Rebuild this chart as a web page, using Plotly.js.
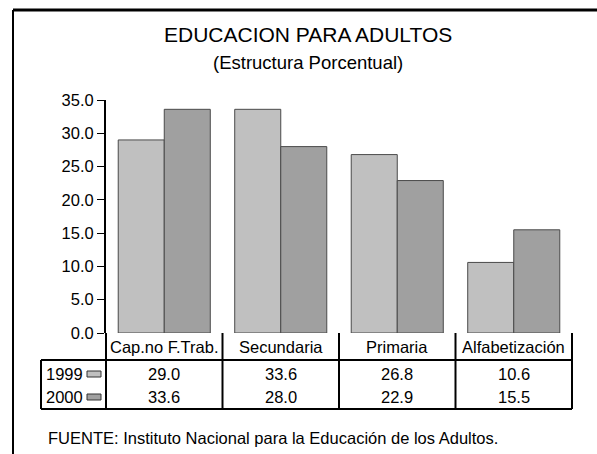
<!DOCTYPE html>
<html>
<head>
<meta charset="utf-8">
<script src="https://cdn.plot.ly/plotly-3.0.1.min.js"></script>
<style>html,body{margin:0;padding:0;background:#fff;}#chart{width:597px;height:454px;}</style>
</head>
<body>
<div id="chart"></div>
<script>
const categories = ["Cap.no F.Trab.", "Secundaria", "Primaria", "Alfabetización"];
const seriesNames = ["1999", "2000"];
const values1999 = [29.0, 33.6, 26.8, 10.6];
const values2000 = [33.6, 28.0, 22.9, 15.5];
const yTickVals = [0, 5, 10, 15, 20, 25, 30, 35];
const yTickText = ["0.0", "5.0", "10.0", "15.0", "20.0", "25.0", "30.0", "35.0"];
const titleText = "EDUCACION PARA ADULTOS";
const subtitleText = "(Estructura Porcentual)";
const sourceText = "FUENTE: Instituto Nacional para la Educación de los Adultos.";

const colors = ["#c0c0c0", "#a0a0a0"];
const font = "Liberation Sans, Arial, sans-serif";

// layout geometry (pixels)
const W = 597, H = 454;
const L = 106, R = 25, T = 100, B = 121;
const pw = W - L - R, ph = H - T - B;
const px = p => (p - L) / pw;          // pixel x -> paper
const py = p => (H - B - p) / ph;      // pixel y -> paper

const allSeries = [values1999, values2000];
const traces = allSeries.map((vals, i) => ({
  type: "bar",
  name: seriesNames[i],
  x: categories,
  y: vals,
  marker: { color: colors[i], line: { color: "#4a4a4a", width: 1 } },
  hoverinfo: "none"
}));

const shapes = [];
const annotations = [];
const lineStyle = { color: "#000", width: 2 };
const txt = 16.5;

// outer frame (top and left)
shapes.push({ type: "line", xref: "paper", yref: "paper", x0: px(13), x1: px(600), y0: py(10), y1: py(10), line: { color: "#000", width: 3 } });
shapes.push({ type: "line", xref: "paper", yref: "paper", x0: px(13), x1: px(13), y0: py(10), y1: py(460), line: { color: "#000", width: 2 } });

// table
const n = categories.length;
const tHeadBot = 360, tBot = 409, tLegL = 41;
for (let i = 0; i <= n; i++) {
  const xp = i / n;
  shapes.push({ type: "line", xref: "paper", yref: "paper", x0: xp, x1: xp, y0: 0, y1: py(tBot), line: lineStyle });
}
shapes.push({ type: "line", xref: "paper", yref: "paper", x0: 0, x1: 1, y0: py(tHeadBot), y1: py(tHeadBot), line: lineStyle });
shapes.push({ type: "line", xref: "paper", yref: "paper", x0: px(tLegL), x1: 0, y0: py(tHeadBot), y1: py(tHeadBot), line: lineStyle });
shapes.push({ type: "line", xref: "paper", yref: "paper", x0: px(tLegL), x1: 1, y0: py(tBot), y1: py(tBot), line: lineStyle });
shapes.push({ type: "line", xref: "paper", yref: "paper", x0: px(tLegL), x1: px(tLegL), y0: py(tHeadBot), y1: py(tBot), line: lineStyle });

// header row
categories.forEach(c => {
  annotations.push({ xref: "x", yref: "paper", x: c, y: py(347), text: c, showarrow: false,
    font: { family: font, size: txt, color: "#000" }, xanchor: "center", yanchor: "middle" });
});
// data rows
const rowY = [373.5, 396.5];
allSeries.forEach((vals, s) => {
  annotations.push({ xref: "paper", yref: "paper", x: px(44), y: py(rowY[s]), text: seriesNames[s], showarrow: false,
    font: { family: font, size: txt, color: "#000" }, xanchor: "left", yanchor: "middle" });
  shapes.push({ type: "rect", xref: "paper", yref: "paper", x0: px(87), x1: px(101), y0: py(rowY[s] - 2.5), y1: py(rowY[s] + 3.5),
    fillcolor: colors[s], line: { color: "#333", width: 1 } });
  vals.forEach((v, i) => {
    annotations.push({ xref: "x", yref: "paper", x: categories[i], y: py(rowY[s]), text: v.toFixed(1), showarrow: false,
      font: { family: font, size: txt, color: "#000" }, xanchor: "center", yanchor: "middle" });
  });
});

// titles and source
annotations.push({ xref: "paper", yref: "paper", x: px(308), y: py(35), text: titleText, showarrow: false,
  font: { family: font, size: 21, color: "#000" }, xanchor: "center", yanchor: "middle" });
annotations.push({ xref: "paper", yref: "paper", x: px(308), y: py(62), text: subtitleText, showarrow: false,
  font: { family: font, size: 18.5, color: "#000" }, xanchor: "center", yanchor: "middle" });
annotations.push({ xref: "paper", yref: "paper", x: px(46), y: py(438), text: sourceText, showarrow: false,
  font: { family: font, size: 16.5, color: "#000" }, xanchor: "left", yanchor: "middle" });

const layout = {
  width: W, height: H,
  margin: { l: L, r: R, t: T, b: B, pad: 0 },
  paper_bgcolor: "#fff", plot_bgcolor: "#fff",
  showlegend: false,
  barmode: "group",
  bargap: 0.21,
  bargroupgap: 0,
  font: { family: font, size: txt, color: "#000" },
  xaxis: { showticklabels: false, ticks: "", showgrid: false, zeroline: false, showline: false, fixedrange: true },
  yaxis: {
    range: [0, 35], tickvals: yTickVals, ticktext: yTickText,
    ticks: "outside", ticklen: 7, tickwidth: 1, tickcolor: "#000",
    showline: true, linecolor: "#000", linewidth: 2,
    showgrid: false, zeroline: false, fixedrange: true,
    tickfont: { family: font, size: txt, color: "#000" }
  },
  shapes: shapes,
  annotations: annotations
};

Plotly.newPlot("chart", traces, layout, { displayModeBar: false, staticPlot: true });
</script>
</body>
</html>
